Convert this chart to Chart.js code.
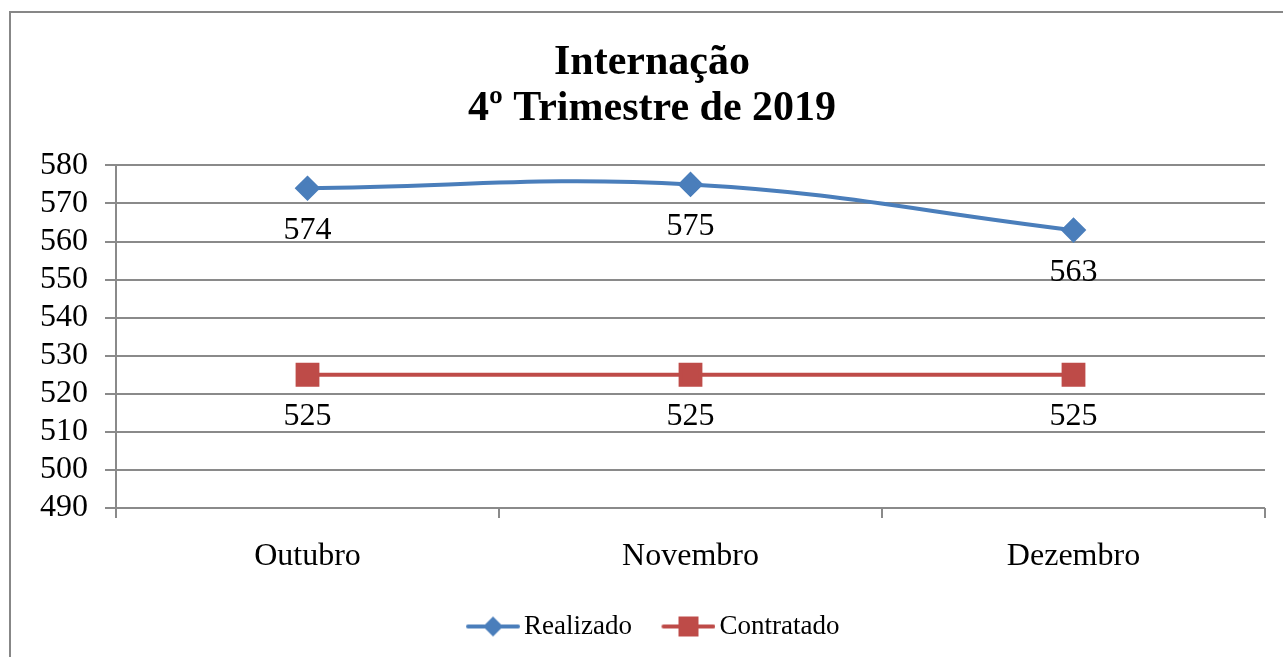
<!DOCTYPE html>
<html>
<head>
<meta charset="utf-8">
<script src="https://cdn.jsdelivr.net/npm/chart.js@4"></script>
<style>
  html, body { margin: 0; padding: 0; background: #fff; }
  #wrap { width: 1283px; height: 657px; position: relative; }
</style>
</head>
<body>
<div id="wrap"><canvas id="chart"></canvas></div>
<script>
const months = ['Outubro', 'Novembro', 'Dezembro'];
const realizado = [574, 575, 563];
const contratado = [525, 525, 525];
const yMin = 490, yMax = 580, yStep = 10;

const BLUE = '#4A7EBB';
const RED = '#BE4B48';
const GRID = '#8a8a8a';
const SERIF = "'Liberation Serif', 'Times New Roman', serif";

// line + marker icon for the legend, pushed to the right of its canvas
function legendIcon(color, shape) {
    const c = document.createElement('canvas');
    c.width = 65; c.height = 22;
    const g = c.getContext('2d');
    g.strokeStyle = color;
    g.lineWidth = 4;
    g.lineCap = 'round';
    g.beginPath(); g.moveTo(13, 11); g.lineTo(63, 11); g.stroke();
    g.fillStyle = color;
    if (shape === 'diamond') {
        g.beginPath(); g.moveTo(38, 1); g.lineTo(48, 11); g.lineTo(38, 21); g.lineTo(28, 11); g.closePath(); g.fill();
    } else {
        g.fillRect(28, 1, 20, 20);
    }
    return c;
}

// chart frame
const framePlugin = {
    id: 'frame',
    beforeDraw(chart) {
        const ctx = chart.ctx;
        ctx.save();
        ctx.strokeStyle = '#878787';
        ctx.lineWidth = 2;
        ctx.strokeRect(10, 12, 1300, 700);
        ctx.restore();
    }
};

// value labels below each point
const valueLabels = {
    id: 'valueLabels',
    afterDatasetsDraw(chart) {
        const ctx = chart.ctx;
        ctx.save();
        ctx.font = '32px ' + SERIF;
        ctx.fillStyle = '#000';
        ctx.textAlign = 'center';
        ctx.textBaseline = 'middle';
        chart.data.datasets.forEach((ds, i) => {
            chart.getDatasetMeta(i).data.forEach((pt, j) => {
                ctx.fillText(String(ds.data[j]), pt.x, pt.y + 42);
            });
        });
        ctx.restore();
    }
};

new Chart(document.getElementById('chart'), {
    type: 'line',
    data: {
        labels: months,
        datasets: [{
            label: 'Realizado',
            data: realizado,
            borderColor: BLUE,
            backgroundColor: BLUE,
            borderWidth: 4,
            tension: 0.4,
            pointStyle: 'rectRot',
            pointRadius: 10,
            pointHoverRadius: 10,
            iconStyle: legendIcon(BLUE, 'diamond')
        }, {
            label: 'Contratado',
            data: contratado,
            borderColor: RED,
            backgroundColor: RED,
            borderWidth: 4,
            tension: 0,
            pointStyle: 'rect',
            pointRadius: 14,
            pointHoverRadius: 14,
            iconStyle: legendIcon(RED, 'square')
        }]
    },
    options: {
        responsive: true,
        maintainAspectRatio: false,
        animation: false,
        layout: { padding: { left: 38, right: 17, top: 0, bottom: 7 } },
        plugins: {
            title: {
                display: true,
                text: ['Internação', '4º Trimestre de 2019'],
                color: '#000',
                font: { family: SERIF, size: 42, weight: 'bold', lineHeight: 1.1 },
                padding: { top: 40, bottom: 33 }
            },
            legend: {
                position: 'bottom',
                labels: {
                    color: '#000',
                    font: { family: SERIF, size: 27 },
                    usePointStyle: true,
                    pointStyleWidth: 46,
                    padding: 28,
                    generateLabels(chart) {
                        const items = Chart.defaults.plugins.legend.labels.generateLabels(chart);
                        items.forEach((it, i) => { it.pointStyle = chart.data.datasets[i].iconStyle; });
                        return items;
                    }
                }
            },
            tooltip: { enabled: false }
        },
        scales: {
            x: {
                offset: true,
                grid: {
                    offset: true,
                    drawOnChartArea: false,
                    drawTicks: true,
                    tickLength: 10,
                    color: GRID,
                    lineWidth: 2
                },
                border: { display: false },
                ticks: {
                    color: '#000',
                    font: { family: SERIF, size: 32 },
                    padding: 19
                },
                afterFit(scale) { scale.height = 77; }
            },
            y: {
                min: yMin,
                max: yMax,
                grid: { color: GRID, lineWidth: 2, tickLength: 11 },
                border: { color: GRID, width: 2 },
                ticks: {
                    stepSize: yStep,
                    autoSkip: false,
                    color: '#000',
                    font: { family: SERIF, size: 32 },
                    padding: 17
                },
                afterFit(scale) { scale.width = 78; }
            }
        }
    },
    plugins: [framePlugin, valueLabels]
});
</script>
</body>
</html>
